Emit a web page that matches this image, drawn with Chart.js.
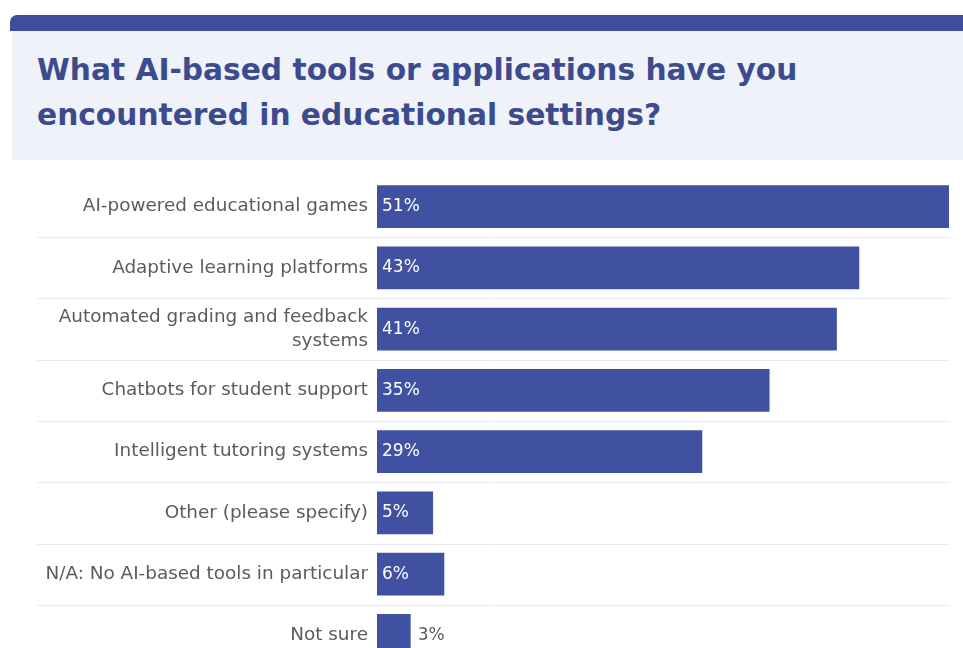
<!DOCTYPE html>
<html>
<head>
<meta charset="utf-8">
<script src="https://cdn.jsdelivr.net/npm/chart.js@4.4.0/dist/chart.umd.min.js"></script>
<style>
    html, body { margin: 0; padding: 0; background: #ffffff; width: 963px; height: 648px; overflow: hidden; }
    #topBar { position: absolute; left: 10px; top: 15px; width: 953px; height: 16px; background: #3e4e9b; border-top-left-radius: 7px; }
    #header { position: absolute; left: 12px; top: 31px; width: 951px; height: 129px; background: #eff2f8; }
    #title { position: absolute; left: 25px; top: 16px; margin: 0; font-family: "DejaVu Sans", sans-serif; font-weight: 700; font-size: 29.7px; line-height: 45px; color: #3c4a8e; white-space: nowrap; }
    #chartBox { position: absolute; left: 0; top: 155px; width: 963px; height: 532px; }
</style>
</head>
<body>
<div id="topBar"></div>
<div id="header">
    <h1 id="title">What AI-based tools or applications have you<br>encountered in educational settings?</h1>
</div>
<div id="chartBox"><canvas id="aiChart"></canvas></div>
<script>
// catégories et valeurs
const categories = [
    "AI-powered educational games",
    "Adaptive learning platforms",
    ["Automated grading and feedback", "systems"],
    "Chatbots for student support",
    "Intelligent tutoring systems",
    "Other (please specify)",
    "N/A: No AI-based tools in particular",
    "Not sure",
];
const percentages = [51, 43, 41, 35, 29, 5, 6, 3];

const barColor = "#3f51a0";
const labelColor = "#5a5b61";
const fontFamily = "'DejaVu Sans', sans-serif";

// lignes de séparation entre les lignes du graphique (plus longues que la zone du graphique)
const separatorPlugin = {
    id: "separators",
    beforeDatasetsDraw(chart) {
        const ctx = chart.ctx;
        const y = chart.scales.y;
        ctx.save();
        ctx.strokeStyle = "#e9eaef";
        ctx.lineWidth = 1;
        for (let k = 1; k < categories.length; k++) {
            const pos = Math.round((y.getPixelForValue(k - 1) + y.getPixelForValue(k)) / 2) + 0.5;
            ctx.beginPath();
            ctx.moveTo(37, pos);
            ctx.lineTo(chart.chartArea.right + 1, pos);
            ctx.stroke();
        }
        ctx.restore();
    },
};

// étiquettes des pourcentages (dans la barre, ou à côté si la barre est trop courte)
const valuePlugin = {
    id: "values",
    afterDatasetsDraw(chart) {
        const ctx = chart.ctx;
        const meta = chart.getDatasetMeta(0);
        ctx.save();
        ctx.font = "17px " + fontFamily;
        ctx.textBaseline = "middle";
        ctx.textAlign = "left";
        meta.data.forEach((bar, idx) => {
            const txt = percentages[idx] + "%";
            const w = ctx.measureText(txt).width;
            if (bar.x - bar.base > w + 12) {
                ctx.fillStyle = "#ffffff";
                ctx.fillText(txt, bar.base + 5, bar.y);
            } else {
                ctx.fillStyle = labelColor;
                ctx.fillText(txt, bar.x + 7, bar.y);
            }
        });
        ctx.restore();
    },
};

let aiChartCan = document.getElementById("aiChart").getContext("2d");
var aiChart = new Chart(aiChartCan, {
    type: "bar",
    data: {
        labels: categories,
        datasets: [{
            label: "Respondents",
            data: percentages,
            backgroundColor: barColor,
            borderWidth: 0,
            barPercentage: 0.7,
            categoryPercentage: 1,
        }, ],
    },
    options: {
        indexAxis: "y",
        animation: false,
        responsive: true,
        maintainAspectRatio: false,
        layout: {
            padding: { top: 0, right: 14, bottom: 0, left: 0 },
        },
        scales: {
            x: {
                display: false,
                min: 0,
                max: 51,
            },
            y: {
                grid: { display: false, drawTicks: false },
                border: { display: false },
                ticks: {
                    color: labelColor,
                    padding: 9,
                    font: { family: fontFamily, size: 18.4, lineHeight: 1.3 },
                },
                afterFit(scale) {
                    scale.width = 377;
                },
            },
        },
        plugins: {
            legend: { display: false },
            tooltip: { enabled: false },
        },
    },
    plugins: [separatorPlugin, valuePlugin],
});
</script>
</body>
</html>
